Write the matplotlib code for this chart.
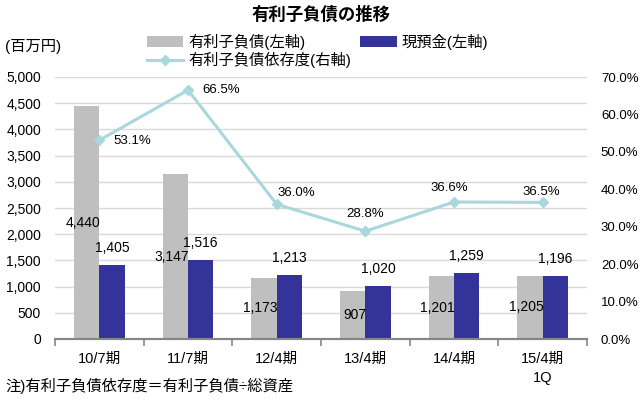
import matplotlib
matplotlib.use("Agg")
import matplotlib.pyplot as plt
from matplotlib.ticker import FuncFormatter

plt.rcParams['font.family'] = ['Liberation Sans', 'Noto Sans CJK JP']

periods = ['10/7期', '11/7期', '12/4期', '13/4期', '14/4期', '15/4期\n1Q']
debt = [4440, 3147, 1173, 907, 1201, 1205]
cash = [1405, 1516, 1213, 1020, 1259, 1196]
debt_ratio = [53.1, 66.5, 36.0, 28.8, 36.6, 36.5]

# label offsets for the ratio line (pixels), tuned by eye
ratio_offsets = [(33, -1), (33, 0), (20, 11), (0, 17), (-5, 14), (-1, 10)]

gray = '#BFBFBF'
blue = '#333399'
cyan = '#A8D8DC'

fig = plt.figure(figsize=(6.42, 3.99), dpi=100)
ax = fig.add_axes([55 / 642, 60 / 399, 532 / 642, 262 / 399])
ax2 = ax.twinx()

x = list(range(len(periods)))
w = 0.285
b1 = ax.bar([i - w / 2 for i in x], debt, w, color=gray, zorder=2)
b2 = ax.bar([i + w / 2 for i in x], cash, w, color=blue, zorder=2)

for i, v in enumerate(debt):
    ax.annotate(f'{v:,}', (i, v / 2), xytext=(1, 0), textcoords='offset pixels',
                ha='right', va='center', fontsize=10)
for i, v in enumerate(cash):
    ax.annotate(f'{v:,}', (i + w / 2, v), xytext=(0, 17), textcoords='offset pixels',
                ha='center', va='center', fontsize=10)

line, = ax2.plot(x, debt_ratio, color=cyan, lw=2.2, marker='D', markersize=5,
                 markeredgecolor=cyan, zorder=3)
for i, v in enumerate(debt_ratio):
    ax2.annotate(f'{v:.1f}%', (i, v), xytext=ratio_offsets[i], textcoords='offset pixels',
                 ha='center', va='center', fontsize=9.5)

ax.set_xlim(-0.5, len(periods) - 0.5)
ax.set_ylim(0, 5000)
ax.set_yticks(range(0, 5001, 500))
ax.yaxis.set_major_formatter(FuncFormatter(lambda v, p: f'{int(v):,}'))
ax2.set_ylim(0, 70)
ax2.set_yticks(range(0, 71, 10))
ax2.yaxis.set_major_formatter(FuncFormatter(lambda v, p: f'{v:.1f}%'))

ax.set_xticks(x)
ax.set_xticklabels(periods, fontsize=10.5, linespacing=1.5)
ax.set_xticks([i - 0.5 for i in range(len(periods) + 1)], minor=True)
ax.tick_params(axis='x', which='major', length=0, pad=9)
ax.tick_params(axis='x', which='minor', length=5, width=1.2, color='#868686')
ax.tick_params(axis='y', length=0, pad=10, labelsize=10)
ax2.tick_params(axis='y', length=0, pad=10, labelsize=9.5)

ax.grid(axis='y', color='#D9D9D9', lw=1, zorder=0)
ax.set_axisbelow(True)
for a in (ax, ax2):
    for s in ('top', 'left', 'right'):
        a.spines[s].set_visible(False)
    a.spines['bottom'].set_color('#868686')
    a.spines['bottom'].set_linewidth(1.5)

fig.text(0.5, 1 - 14 / 399, '有利子負債の推移', ha='center', va='center',
         fontsize=12.5, fontweight='bold')
fig.text(5 / 642, 1 - 47 / 399, '(百万円)', ha='left', va='center', fontsize=11)
fig.text(5 / 642, 1 - 386 / 399, '注)有利子負債依存度＝有利子負債÷総資産',
         ha='left', va='center', fontsize=11)

fig.legend([b1, line, b2], ['有利子負債(左軸)', '有利子負債依存度(右軸)', '現預金(左軸)'],
           loc='upper left', bbox_to_anchor=(139 / 642, 1 - 26 / 399), ncol=2,
           frameon=False, fontsize=11, borderpad=0, handlelength=2.4,
           handleheight=0.7, handletextpad=0.3, columnspacing=0.6, labelspacing=0.15)

fig.savefig('out.png', dpi=100)
